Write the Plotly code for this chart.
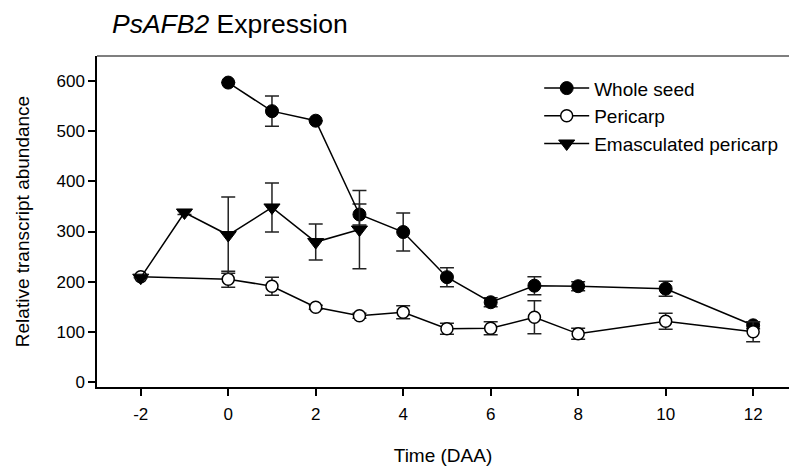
import plotly.graph_objects as go

# Whole seed
ws_x = [0, 1, 2, 3, 4, 5, 6, 7, 8, 10, 12]
ws_y = [597, 540, 521, 334, 299, 209, 159, 192, 191, 186, 113]
ws_e = [0, 30, 0, 21, 38, 19, 9, 18, 9, 15, 7]

# Pericarp
pc_x = [-2, 0, 1, 2, 3, 4, 5, 6, 7, 8, 10, 12]
pc_y = [210, 205, 191, 149, 132, 139, 106, 107, 129, 96, 121, 100]
pc_e = [0, 16, 18, 4, 5, 13, 11, 13, 33, 11, 16, 20]

# Emasculated pericarp
ep_x = [-2, -1, 0, 1, 2, 3]
ep_y = [208, 338, 293, 348, 279, 304]
ep_e = [0, 4, 76, 49, 36, 78]

x_ticks = [-2, 0, 2, 4, 6, 8, 10, 12]
x_ticktext = ["-2", "0", "2", "4", "6", "8", "10", "12"]
y_ticks = [0, 100, 200, 300, 400, 500, 600]

FONT = "Liberation Sans, Arial, sans-serif"

fig = go.Figure()
err = dict(type="data", thickness=1.5, width=7, color="#222")

fig.add_trace(go.Scatter(
    x=ws_x, y=ws_y, name="Whole seed", mode="lines+markers",
    line=dict(color="black", width=1.5),
    marker=dict(symbol="circle", size=13, color="black", line=dict(color="black", width=1)),
    error_y=dict(array=ws_e, **err)))
fig.add_trace(go.Scatter(
    x=pc_x, y=pc_y, name="Pericarp", mode="lines+markers",
    line=dict(color="black", width=1.5),
    marker=dict(symbol="circle", size=12, color="white", line=dict(color="black", width=1.5)),
    error_y=dict(array=pc_e, **err)))
fig.add_trace(go.Scatter(
    x=ep_x, y=ep_y, name="Emasculated pericarp", mode="lines+markers",
    line=dict(color="black", width=1.5),
    marker=dict(symbol="triangle-down", size=14, color="black", line=dict(color="black", width=1)),
    error_y=dict(array=ep_e, **err)))

fig.update_layout(
    width=789, height=469,
    margin=dict(l=97, r=0, t=56, b=82),
    paper_bgcolor="white", plot_bgcolor="white",
    font=dict(family=FONT, color="black"),
    showlegend=True,
    legend=dict(x=0.639, y=0.96, xanchor="left", yanchor="top",
                bgcolor="rgba(0,0,0,0)", font=dict(size=19, family=FONT),
                itemwidth=45, tracegroupgap=0),
    title=dict(text="<i>PsAFB2</i> Expression", font=dict(size=26.5, family=FONT),
               x=112/789, xanchor="left", xref="container",
               y=1 - 24/469, yanchor="middle", yref="container"),
)
fig.update_xaxes(range=[-3, 12.82], tickvals=x_ticks, ticktext=x_ticktext,
                 ticks="outside", ticklen=7, tickwidth=1.5, tickcolor="black",
                 showline=True, linecolor="black", linewidth=1.5,
                 showgrid=False, zeroline=False, tickfont=dict(size=17),
                 ticklabelstandoff=4,
                 title=dict(text="Time (DAA)", font=dict(size=19), standoff=26))
fig.update_yaxes(range=[-10, 650], tickvals=y_ticks,
                 ticks="outside", ticklen=7, tickwidth=1.5, tickcolor="black",
                 showline=True, linecolor="black", linewidth=1.5,
                 showgrid=False, zeroline=False, tickfont=dict(size=17),
                 title=dict(text="Relative transcript abundance", font=dict(size=19), standoff=22))
fig.add_shape(type="line", xref="paper", yref="paper", x0=0, x1=1, y0=1, y1=1,
              line=dict(color="#555", width=1.5))

fig.write_html("out.html")
